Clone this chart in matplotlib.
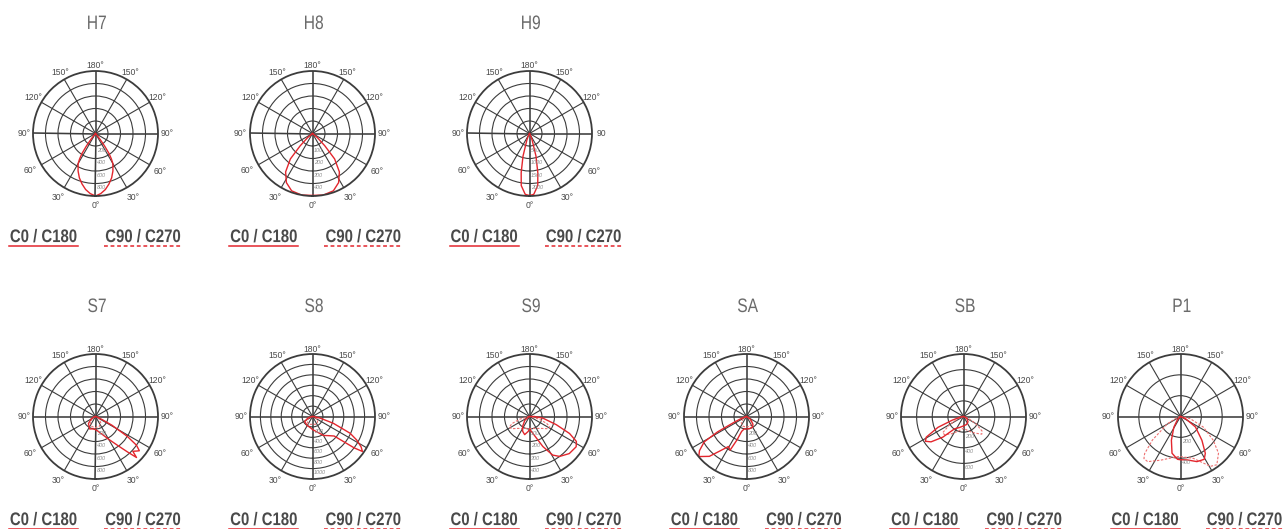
import matplotlib
matplotlib.use("Agg")
import matplotlib.pyplot as plt
import numpy as np
from matplotlib import font_manager
from matplotlib.font_manager import FontProperties
from matplotlib.textpath import TextPath
from matplotlib.patches import PathPatch
from matplotlib.transforms import Affine2D

# ---------------- Data -----------------------------------------
# gamma = angle from nadir in degrees, values in cd/klm
h7_gamma = [0, 5, 10, 15, 20, 25, 30, 32, 34, 36, 38, 40, 45]
h7_c0 = [1000, 965, 910, 835, 755, 660, 555, 480, 390, 250, 120, 40, 0]

h8_gamma = [0, 10, 20, 28, 35, 41, 45, 50, 55]
h8_c0 = [495, 500, 488, 445, 375, 270, 140, 50, 0]

h9_gamma = [0, 4, 9, 12, 16, 18, 22, 26, 30]
h9_c0 = [2480, 2440, 2110, 1600, 940, 520, 280, 100, 0]

s7_c0_gamma = [0, 10, 20, 30, 38, 42, 45, 47, 50, 52, 55, 58, 62, 65, 70, 80]
s7_c0 = [210, 240, 300, 420, 600, 760, 928, 816, 860, 890, 800, 600, 300, 120, 40, 0]
s7_c180_gamma = [0, 10, 25, 45, 60, 75, 90]
s7_c180 = [210, 200, 220, 160, 80, 20, 0]
s7_c90_gamma = [0, 20, 40, 60, 75, 90]
s7_c90 = [180, 170, 130, 60, 15, 0]

s8_c0_gamma = [0, 20, 30, 40, 48, 51, 53, 55, 58, 62, 66, 72, 78, 85, 90]
s8_c0 = [250, 330, 420, 480, 560, 760, 1000, 1170, 1100, 960, 790, 420, 150, 30, 0]
s8_c180_gamma = [0, 10, 30, 57, 70, 80, 90]
s8_c180 = [250, 220, 200, 180, 100, 30, 0]
s8_c90_gamma = [0, 20, 40, 60, 75, 90]
s8_c90 = [150, 160, 150, 110, 40, 0]

s9_c0_gamma = [0, 11, 24, 31, 37, 47, 57, 62, 67, 73, 83, 90, 100]
s9_c0 = [100, 136, 263, 360, 400, 435, 445, 425, 348, 224, 108, 40, 0]
s9_c180_gamma = [0, 5, 15, 25, 35, 50, 70, 90]
s9_c180 = [100, 120, 150, 130, 95, 50, 10, 0]
s9_c90_gamma = [0, 30, 45, 55, 62, 68, 75, 85]
s9_c90 = [95, 110, 135, 170, 185, 150, 80, 0]

sa_c0_gamma = [0, 15, 30, 40, 55, 70]
sa_c0 = [200, 200, 195, 160, 80, 0]
sa_c180_gamma = [0, 10, 18, 22, 26, 31, 37, 43, 50, 54, 59, 62, 65, 70, 80]
sa_c180 = [200, 200, 250, 400, 600, 560, 680, 872, 997, 930, 790, 526, 216, 80, 0]
sa_c90_gamma = [0, 20, 40, 60, 75]
sa_c90 = [170, 165, 130, 60, 0]

sb_c0_gamma = [0, 20, 40, 60, 80]
sb_c0 = [120, 110, 90, 50, 0]
sb_c180_gamma = [0, 20, 36, 45, 52, 57, 61, 67, 72, 80, 90]
sb_c180 = [120, 150, 195, 373, 527, 582, 545, 355, 150, 40, 0]
sb_c90_gamma = [0, 20, 35, 46, 52, 60, 70, 80]
sb_c90 = [150, 200, 260, 325, 300, 180, 60, 0]
sb_c270 = [150, 200, 270, 335, 340, 200, 60, 0]

p1_c0_gamma = [0, 9, 20, 29, 34, 42, 55, 65, 75]
p1_c0 = [415, 422, 461, 470, 426, 307, 175, 60, 0]
p1_c180_gamma = [0, 4, 13, 21, 32, 45, 55]
p1_c180 = [415, 412, 362, 244, 120, 40, 0]
p1_c90_gamma = [0, 17, 31, 37, 46, 54, 65, 77, 85, 90]
p1_c90 = [385, 420, 558, 580, 507, 389, 243, 98, 20, 0]
p1_c270_gamma = [0, 5, 24, 36, 41, 44, 50, 61, 70, 80]
p1_c270 = [385, 387, 458, 536, 535, 496, 352, 144, 40, 0]

angle_labels = ["0°", "30°", "60°", "90°", "120°", "150°", "180°",
                "150°", "120°", "90°", "60°", "30°"]

# name, row, col, outer value, ring labels, (C0 gamma, C0, C180 gamma, C180), (C90 ..., C270 ...)
charts = [
    ("H7", 0, 0, 1000, [200, 400, 600, 800], (h7_gamma, h7_c0, h7_gamma, h7_c0), None),
    ("H8", 0, 1, 500, [100, 200, 300, 400], (h8_gamma, h8_c0, h8_gamma, h8_c0), None),
    ("H9", 0, 2, 2500, [500, 1000, 1500, 2000], (h9_gamma, h9_c0, h9_gamma, h9_c0), None),
    ("S7", 1, 0, 1000, [200, 400, 600, 800],
     (s7_c0_gamma, s7_c0, s7_c180_gamma, s7_c180), (s7_c90_gamma, s7_c90, s7_c90_gamma, s7_c90)),
    ("S8", 1, 1, 1200, [200, 400, 600, 800, 1000],
     (s8_c0_gamma, s8_c0, s8_c180_gamma, s8_c180), (s8_c90_gamma, s8_c90, s8_c90_gamma, s8_c90)),
    ("S9", 1, 2, 500, [100, 200, 300, 400],
     (s9_c0_gamma, s9_c0, s9_c180_gamma, s9_c180), (s9_c90_gamma, s9_c90, s9_c90_gamma, s9_c90)),
    ("SA", 1, 3, 1000, [200, 400, 600, 800],
     (sa_c0_gamma, sa_c0, sa_c180_gamma, sa_c180), (sa_c90_gamma, sa_c90, sa_c90_gamma, sa_c90)),
    ("SB", 1, 4, 800, [200, 400, 600],
     (sb_c0_gamma, sb_c0, sb_c180_gamma, sb_c180), (sb_c90_gamma, sb_c90, sb_c90_gamma, sb_c270)),
    ("P1", 1, 5, 600, [200, 400],
     (p1_c0_gamma, p1_c0, p1_c180_gamma, p1_c180), (p1_c90_gamma, p1_c90, p1_c270_gamma, p1_c270)),
]

# ---------------- Style -----------------
W, H = 1283, 529
R = 62.5
RED = "#e3262d"
RED_LIGHT = "#ee7070"
GRID = "#3c3c3c"
TEXT = "#4a4a4a"

names = {f.name for f in font_manager.fontManager.ttflist}
FAMILY = next(n for n in ["Liberation Sans Narrow", "Liberation Sans", "DejaVu Sans"] if n in names)
label_rad = {0: 1.15, 30: 1.19, 60: 1.2, 90: 1.15, 120: 1.14, 150: 1.12, 180: 1.08}


def plane(gam_a, val_a, gam_b, val_b):
    # right half-plane = positive angles, left half-plane = negative angles
    theta = np.concatenate([-np.radians(gam_b)[::-1], np.radians(gam_a)])
    r = np.concatenate([np.array(val_b)[::-1], np.array(val_a)])
    return theta, r


def condensed(ax, x, y, s, size, sx, weight="normal", color=TEXT):
    # text drawn as a path so it can be squeezed horizontally (no condensed font installed)
    tp = TextPath((0, 0), s, size=size, prop=FontProperties(family=FAMILY, weight=weight))
    bb = tp.get_extents()
    cap = size * 0.72
    tr = (Affine2D().translate(-(bb.x0 + bb.x1) / 2, -cap / 2)
          .scale(sx, -1).translate(x, y))
    ax.add_patch(PathPatch(tr.transform_path(tp), fc=color, ec="none", lw=0))


fig = plt.figure(figsize=(W / 100, H / 100), dpi=100)
ov = fig.add_axes([0, 0, 1, 1])
ov.set_xlim(0, W)
ov.set_ylim(H, 0)
ov.axis("off")

for name, row, col, outer, rings, main, cross in charts:
    cx = 95.5 + 217 * col
    cy = 133.5 if row == 0 else 416.5
    ax = fig.add_axes([(cx - R) / W, (H - cy - R) / H, 2 * R / W, 2 * R / H],
                      projection="polar")
    ax.set_theta_zero_location("S")
    ax.set_theta_direction(1)
    ax.set_ylim(0, outer)
    ax.set_xticks(np.radians(np.arange(0, 360, 30)))
    ax.set_xticklabels([])
    ax.set_yticks(rings)
    ax.set_yticklabels([])
    ax.tick_params(length=0)
    ax.grid(True, color=GRID, lw=0.8)
    for i, gl in enumerate(ax.xaxis.get_gridlines()):
        gl.set_linewidth(1.15 if i % 3 == 0 else 0.8)
    ax.spines["polar"].set_linewidth(1.3)
    ax.spines["polar"].set_color(GRID)

    for i, lab in enumerate(angle_labels):
        deg = i * 30
        if name == "H9" and deg == 90:
            lab = "90"
        k = label_rad[deg if deg <= 180 else 360 - deg]
        ax.text(np.radians(deg), outer * k, lab, ha="center", va="center",
                fontsize=6.2, color=TEXT, family=FAMILY)

    for v in rings:
        ax.annotate(str(v), xy=(0, v), xytext=(1.2, -3), textcoords="offset points",
                    ha="left", va="center", fontsize=4, color="#8c8c8c",
                    family=FAMILY, style="italic")

    if cross is not None:
        t, r = plane(*cross)
        ax.plot(t, r, color=RED_LIGHT, lw=0.8, ls=(0, (2.2, 1.4)))
    t, r = plane(*main)
    ax.plot(t, r, color=RED, lw=1.0)

    # title
    condensed(ov, cx + 1.5, cy - 111.5, name, 19.5, 0.8, color="#6a6a6a")

    # legend
    lx = 220.3 * col
    condensed(ov, lx + 43.5, cy + 102, "C0 / C180", 18.2, 0.82, weight="bold")
    condensed(ov, lx + 143, cy + 102, "C90 / C270", 18.2, 0.82, weight="bold")
    ov.plot([lx + 9, lx + 78], [cy + 112.5, cy + 112.5], color=RED, lw=1.1)
    ov.plot([lx + 104, lx + 182], [cy + 112.5, cy + 112.5], color=RED, lw=1.1,
            ls=(0, (2.5, 1.8)))

fig.savefig("out.png", dpi=100)
